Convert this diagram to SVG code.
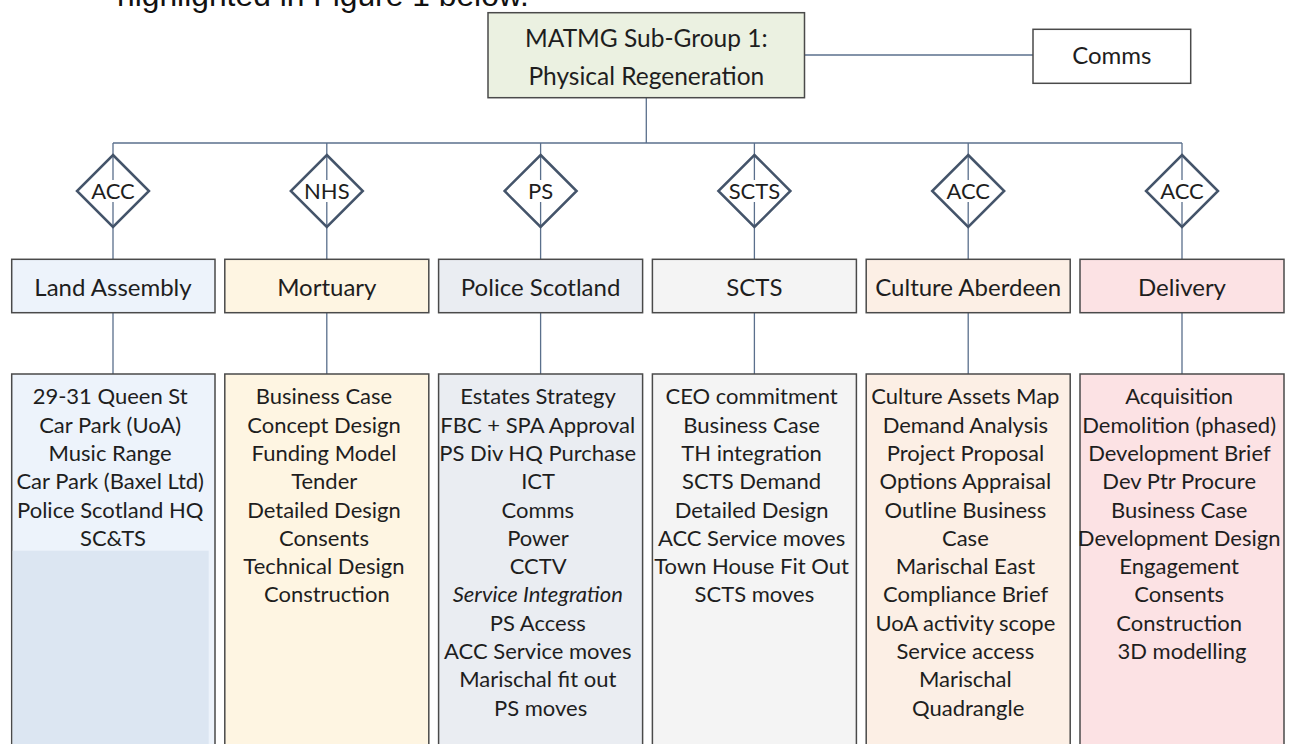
<svg xmlns="http://www.w3.org/2000/svg" width="1292" height="744" viewBox="0 0 1292 744">
<style>
  .t { font-family: Lato, "Liberation Sans", sans-serif; fill: #1e1e1e; text-anchor: middle; }
  .lst { font-size: 22px; }
  .hdr { font-size: 24px; }
  .dia { font-size: 22px; }
  .main { font-size: 24.5px; }
  .box { stroke: #4a4a4a; stroke-width: 1.5; }
  .conn { stroke: #5a6f8c; stroke-width: 1.3; fill: none; }
  .dmd { fill: none; stroke: #44546a; stroke-width: 2.5; stroke-linejoin: miter; }
  .title { font-family: "Liberation Sans", Arial, sans-serif; font-size: 31.8px; fill: #111; }
</style>
<rect width="1292" height="744" fill="#ffffff"/>
<text class="title" x="117" y="6">highlighted in Figure 1 below.</text>

<g id="connectors">
  <line class="conn" x1="804.5" y1="55" x2="1033" y2="55"/>
  <line class="conn" x1="646.3" y1="97.7" x2="646.3" y2="143"/>
  <line class="conn" x1="113" y1="143" x2="1182" y2="143"/>
  <path class="conn" d="M113 143V180M113 202V259.3M113 312.7V374"/>
  <path class="conn" d="M326.8 143V180M326.8 202V259.3M326.8 312.7V374"/>
  <path class="conn" d="M540.6 143V180M540.6 202V259.3M540.6 312.7V374"/>
  <path class="conn" d="M754.4 143V180M754.4 202V259.3M754.4 312.7V374"/>
  <path class="conn" d="M968.2 143V180M968.2 202V259.3M968.2 312.7V374"/>
  <path class="conn" d="M1182 143V180M1182 202V259.3M1182 312.7V374"/>
</g>

<g id="main">
  <rect class="box" x="488" y="12.7" width="316.5" height="85" fill="#ebf1e1" stroke="#333"/>
  <text class="t main" x="646.3" y="47">MATMG Sub-Group 1:</text>
  <text class="t main" x="646.3" y="85">Physical Regeneration</text>
</g>
<g id="comms">
  <rect class="box" x="1033" y="29.3" width="157.7" height="54" fill="#ffffff" stroke="#333"/>
  <text class="t hdr" x="1111.8" y="64.3">Comms</text>
</g>

<g id="diamond-acc-1"><polygon class="dmd" points="113,155 149,191 113,227 77,191"/><text class="t dia" x="113" y="199">ACC</text></g>
<g id="diamond-nhs"><polygon class="dmd" points="326.8,155 362.8,191 326.8,227 290.8,191"/><text class="t dia" x="326.8" y="199">NHS</text></g>
<g id="diamond-ps"><polygon class="dmd" points="540.6,155 576.6,191 540.6,227 504.6,191"/><text class="t dia" x="540.6" y="199">PS</text></g>
<g id="diamond-scts"><polygon class="dmd" points="754.4,155 790.4,191 754.4,227 718.4,191"/><text class="t dia" x="754.4" y="199">SCTS</text></g>
<g id="diamond-acc-2"><polygon class="dmd" points="968.2,155 1004.2,191 968.2,227 932.2,191"/><text class="t dia" x="968.2" y="199">ACC</text></g>
<g id="diamond-acc-3"><polygon class="dmd" points="1182,155 1218,191 1182,227 1146,191"/><text class="t dia" x="1182" y="199">ACC</text></g>

<g id="land-assembly">
  <rect class="box" x="11.7" y="259.3" width="203.3" height="53.4" fill="#edf3fb"/>
  <text class="t hdr" x="113" y="296">Land Assembly</text>
</g>
<g id="mortuary">
  <rect class="box" x="224.8" y="259.3" width="204" height="53.4" fill="#fef5e2"/>
  <text class="t hdr" x="326.8" y="296">Mortuary</text>
</g>
<g id="police-scotland">
  <rect class="box" x="438.6" y="259.3" width="204" height="53.4" fill="#eaedf2"/>
  <text class="t hdr" x="540.6" y="296">Police Scotland</text>
</g>
<g id="scts">
  <rect class="box" x="652.4" y="259.3" width="204" height="53.4" fill="#f4f4f4"/>
  <text class="t hdr" x="754.4" y="296">SCTS</text>
</g>
<g id="culture-aberdeen">
  <rect class="box" x="866.2" y="259.3" width="204" height="53.4" fill="#fcefe5"/>
  <text class="t hdr" x="968.2" y="296">Culture Aberdeen</text>
</g>
<g id="delivery">
  <rect class="box" x="1080" y="259.3" width="204" height="53.4" fill="#fce2e4"/>
  <text class="t hdr" x="1182" y="296">Delivery</text>
</g>

<g id="land-assembly-items">
  <rect class="box" x="11.7" y="374" width="203.3" height="390" fill="#edf3fb"/>
  <rect x="12.7" y="550.7" width="196" height="200" fill="#dce6f2"/>
  <text class="t lst" x="113">
    <tspan x="113" y="404.3">29-31 Queen St</tspan>
    <tspan x="113" y="432.6">Car Park (UoA)</tspan>
    <tspan x="113" y="460.9">Music Range</tspan>
    <tspan x="113" y="489.2">Car Park (Baxel Ltd)</tspan>
    <tspan x="113" y="517.5">Police Scotland HQ</tspan>
    <tspan x="113" y="545.8">SC&amp;TS</tspan>
  </text>
</g>
<g id="mortuary-items">
  <rect class="box" x="224.8" y="374" width="204" height="390" fill="#fef5e2"/>
  <text class="t lst">
    <tspan x="326.8" y="404.3">Business Case</tspan>
    <tspan x="326.8" y="432.6">Concept Design</tspan>
    <tspan x="326.8" y="460.9">Funding Model</tspan>
    <tspan x="326.8" y="489.2">Tender</tspan>
    <tspan x="326.8" y="517.5">Detailed Design</tspan>
    <tspan x="326.8" y="545.8">Consents</tspan>
    <tspan x="326.8" y="574.1">Technical Design</tspan>
    <tspan x="326.8" y="602.4">Construction</tspan>
  </text>
</g>
<g id="police-scotland-items">
  <rect class="box" x="438.6" y="374" width="204" height="390" fill="#eaedf2"/>
  <text class="t lst">
    <tspan x="540.6" y="404.3">Estates Strategy</tspan>
    <tspan x="540.6" y="432.6">FBC + SPA Approval</tspan>
    <tspan x="540.6" y="460.9">PS Div HQ Purchase</tspan>
    <tspan x="540.6" y="489.2">ICT</tspan>
    <tspan x="540.6" y="517.5">Comms</tspan>
    <tspan x="540.6" y="545.8">Power</tspan>
    <tspan x="540.6" y="574.1">CCTV</tspan>
    <tspan x="540.6" y="602.4" font-style="italic">Service Integration</tspan>
    <tspan x="540.6" y="630.7">PS Access</tspan>
    <tspan x="540.6" y="659">ACC Service moves</tspan>
    <tspan x="540.6" y="687.3">Marischal fit out</tspan>
    <tspan x="540.6" y="715.6">PS moves</tspan>
  </text>
</g>
<g id="scts-items">
  <rect class="box" x="652.4" y="374" width="204" height="390" fill="#f4f4f4"/>
  <text class="t lst">
    <tspan x="754.4" y="404.3">CEO commitment</tspan>
    <tspan x="754.4" y="432.6">Business Case</tspan>
    <tspan x="754.4" y="460.9">TH integration</tspan>
    <tspan x="754.4" y="489.2">SCTS Demand</tspan>
    <tspan x="754.4" y="517.5">Detailed Design</tspan>
    <tspan x="754.4" y="545.8">ACC Service moves</tspan>
    <tspan x="754.4" y="574.1">Town House Fit Out</tspan>
    <tspan x="754.4" y="602.4">SCTS moves</tspan>
  </text>
</g>
<g id="culture-aberdeen-items">
  <rect class="box" x="866.2" y="374" width="204" height="390" fill="#fcefe5"/>
  <text class="t lst">
    <tspan x="968.2" y="404.3">Culture Assets Map</tspan>
    <tspan x="968.2" y="432.6">Demand Analysis</tspan>
    <tspan x="968.2" y="460.9">Project Proposal</tspan>
    <tspan x="968.2" y="489.2">Options Appraisal</tspan>
    <tspan x="968.2" y="517.5">Outline Business</tspan>
    <tspan x="968.2" y="545.8">Case</tspan>
    <tspan x="968.2" y="574.1">Marischal East</tspan>
    <tspan x="968.2" y="602.4">Compliance Brief</tspan>
    <tspan x="968.2" y="630.7">UoA activity scope</tspan>
    <tspan x="968.2" y="659">Service access</tspan>
    <tspan x="968.2" y="687.3">Marischal</tspan>
    <tspan x="968.2" y="715.6">Quadrangle</tspan>
  </text>
</g>
<g id="delivery-items">
  <rect class="box" x="1080" y="374" width="204" height="390" fill="#fce2e4"/>
  <text class="t lst">
    <tspan x="1182" y="404.3">Acquisition</tspan>
    <tspan x="1182" y="432.6">Demolition (phased)</tspan>
    <tspan x="1182" y="460.9">Development Brief</tspan>
    <tspan x="1182" y="489.2">Dev Ptr Procure</tspan>
    <tspan x="1182" y="517.5">Business Case</tspan>
    <tspan x="1182" y="545.8">Development Design</tspan>
    <tspan x="1182" y="574.1">Engagement</tspan>
    <tspan x="1182" y="602.4">Consents</tspan>
    <tspan x="1182" y="630.7">Construction</tspan>
    <tspan x="1182" y="659">3D modelling</tspan>
  </text>
</g>
</svg>
